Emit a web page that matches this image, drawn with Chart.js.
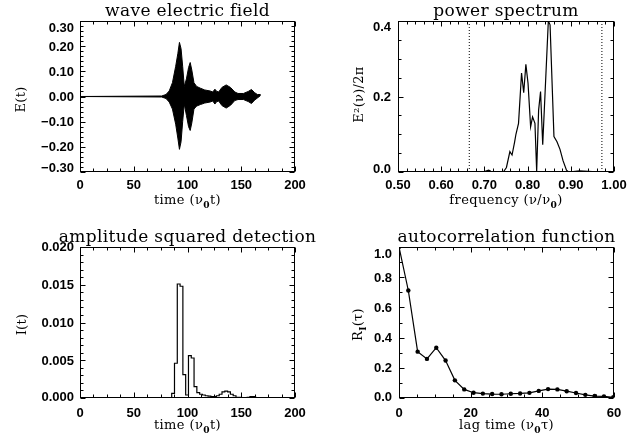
<!DOCTYPE html>
<html><head><meta charset="utf-8">
<script src="https://cdn.jsdelivr.net/npm/chart.js@4/dist/chart.umd.min.js"></script>
<style>
html,body{margin:0;padding:0;background:#fff;overflow:hidden}
#wrap{position:relative;width:639px;height:438px;background:#fff}
canvas{position:absolute;left:0;top:0}
</style></head><body><div id="wrap">
<canvas id="c1" width="639" height="438"></canvas>
<canvas id="c2" width="639" height="438"></canvas>
<canvas id="c3" width="639" height="438"></canvas>
<canvas id="c4" width="639" height="438"></canvas>
</div>
<script>
// ---------- data ----------
const waveTime  = [0, 76, 80, 83, 86, 89, 91, 92.5, 94, 95.5, 97, 99, 101, 102.5, 104, 106, 108.5, 112, 116, 121, 123.5, 125.5, 127, 129, 132, 136, 140, 144, 147, 152, 156.5, 159.5, 162.5, 165, 168];
const waveUpper = [0, 0.002, 0.008, 0.022, 0.055, 0.12, 0.17, 0.215, 0.19, 0.12, 0.04, 0.07, 0.115, 0.135, 0.105, 0.055, 0.04, 0.033, 0.026, 0.022, 0.018, 0.029, 0.021, 0.018, 0.036, 0.046, 0.036, 0.018, 0.012, 0.012, 0.02, 0.028, 0.015, 0.008, 0.008];
const waveLower = [0, -0.002, -0.008, -0.022, -0.05, -0.11, -0.165, -0.21, -0.18, -0.1, -0.03, -0.075, -0.12, -0.135, -0.105, -0.05, -0.038, -0.032, -0.026, -0.022, -0.018, -0.03, -0.021, -0.018, -0.036, -0.046, -0.035, -0.016, -0.012, -0.012, -0.02, -0.028, -0.014, -0.006, 0.004];

const specFreq  = [0.50, 0.60, 0.69, 0.70, 0.705, 0.71, 0.715, 0.72, 0.73, 0.745, 0.751, 0.759, 0.764, 0.770, 0.773, 0.779, 0.786, 0.791, 0.796, 0.801, 0.807, 0.8115, 0.817, 0.821, 0.8255, 0.830, 0.835, 0.848, 0.852, 0.861, 0.868, 0.875, 0.882, 0.890, 0.895, 0.92, 0.95, 1.0];
const specPower = [0, 0, 0, 0.001, 0.003, 0.005, 0.002, 0.001, 0.001, 0.002, 0.012, 0.054, 0.045, 0.08, 0.10, 0.129, 0.262, 0.21, 0.285, 0.235, 0.12, 0.146, 0.129, 0.002, 0.164, 0.213, 0.072, 0.40, 0.39, 0.094, 0.08, 0.06, 0.03, 0.005, 0, 0.003, 0.001, 0];
const specMarkers = [0.665, 0.972];

const detTime = [0, 81.4, 84.0, 86.6, 89.2, 91.8, 94.4, 97.0, 99.6, 102.2, 104.8, 107.4, 110.0, 112.6, 115.2, 117.8, 120.4, 123.0, 125.6, 128.2, 130.8, 133.4, 136.0, 138.6, 141.2, 143.8, 146.4, 149.0, 151.6, 154.2, 156.8, 159.4, 162.0, 164.6];
const detIntensity = [0, 0, 0, 0.0006, 0.0046, 0.0151, 0.0148, 0.0031, 0.0004, 0.0056, 0.0053, 0.0015, 0.0007, 0.0005, 0.0004, 0.0003, 0.00025, 0.0002, 0.0002, 0.0003, 0.0005, 0.0008, 0.0009, 0.0008, 0.0005, 0.0003, 0.0001, 0.0001, 0, 0, 0.0001, 0.0002, 0.0002, 0];

const lagTime  = [0, 2.6, 5.2, 7.8, 10.4, 13.0, 15.6, 18.2, 20.8, 23.4, 26.0, 28.6, 31.2, 33.8, 36.4, 39.0, 41.6, 44.2, 46.8, 49.4, 52.0, 54.6, 57.2, 59.8];
const autoCorr = [1.0, 0.712, 0.307, 0.259, 0.333, 0.248, 0.117, 0.057, 0.035, 0.029, 0.026, 0.025, 0.028, 0.030, 0.034, 0.047, 0.059, 0.057, 0.045, 0.033, 0.021, 0.013, 0.011, 0.005];

// tick values and labels
const timeTicks = [0, 50, 100, 150, 200];
const timeTickLabels = ['0', '50', '100', '150', '200'];
const fieldTicks = [-0.3, -0.2, -0.1, 0, 0.1, 0.2, 0.3];
const fieldTickLabels = ['\u22120.30', '\u22120.20', '\u22120.10', '0.00', '0.10', '0.20', '0.30'];
const freqTicks = [0.5, 0.6, 0.7, 0.8, 0.9, 1.0];
const freqTickLabels = ['0.50', '0.60', '0.70', '0.80', '0.90', '1.00'];
const powerTicks = [0, 0.2, 0.4];
const powerTickLabels = ['0.0', '0.2', '0.4'];
const intensTicks = [0, 0.005, 0.010, 0.015, 0.020];
const intensTickLabels = ['0.000', '0.005', '0.010', '0.015', '0.020'];
const lagTicks = [0, 20, 40, 60];
const lagTickLabels = ['0', '20', '40', '60'];
const corrTicks = [0, 0.2, 0.4, 0.6, 0.8, 1.0];
const corrTickLabels = ['0.0', '0.2', '0.4', '0.6', '0.8', '1.0'];

// ---------- helpers ----------
const TICKFONT = 'bold 13px "Liberation Sans"';
const SERIF = '"DejaVu Serif"';
function pts(xs, ys) { return xs.map((x, i) => ({x: x, y: ys[i]})); }

function drawRich(ctx, segs, cx, cy, size, rot, ls) {
  ctx.save();
  ctx.translate(cx, cy);
  if (rot) ctx.rotate(-Math.PI / 2);
  ctx.textBaseline = 'alphabetic';
  ctx.textAlign = 'left';
  ctx.fillStyle = '#000';
  try { ctx.letterSpacing = (ls || 0) + 'px'; } catch (e) {}
  let w = 0;
  segs.forEach(s => { ctx.font = (s.sub ? 'bold ' + size * 0.7 : size) + 'px ' + SERIF; w += ctx.measureText(s.t).width; });
  let x = -w / 2;
  segs.forEach(s => {
    const sz = s.sub ? size * 0.7 : size;
    ctx.font = (s.sub ? 'bold ' : '') + sz + 'px ' + SERIF;
    ctx.fillText(s.t, x, s.sub ? size * 0.28 : 0);
    x += ctx.measureText(s.t).width;
  });
  ctx.restore();
}

const idlPlugin = {
  id: 'idl',
  afterDraw(chart, args, o) {
    const ctx = chart.ctx, a = chart.chartArea, xs = chart.scales.x, ys = chart.scales.y;
    ctx.save();
    ctx.strokeStyle = '#000';
    ctx.lineWidth = 1;
    const L = Math.round(a.left) + 0.5, R = Math.round(a.right) - 0.5;
    const T = Math.round(a.top) + 0.5, B = Math.round(a.bottom) - 0.5;
    ctx.strokeRect(L, T, R - L, B - T);
    ctx.beginPath();
    // x ticks
    const xv = o.xTicks, xstep = xv[1] - xv[0];
    const xMarks = [];
    xv.forEach(v => xMarks.push([v, o.xMajorLen]));
    for (let i = 0; i < xv.length - 1; i++)
      for (let k = 1; k < o.xMinor; k++) xMarks.push([xv[i] + k * xstep / o.xMinor, o.xMinorLen]);
    xMarks.forEach(([v, len]) => {
      const p = Math.round(xs.getPixelForValue(v)) + 0.5;
      ctx.moveTo(p, B); ctx.lineTo(p, B - len);
      ctx.moveTo(p, T); ctx.lineTo(p, T + len);
    });
    // y ticks
    const yv = o.yTicks, ystep = yv[1] - yv[0];
    const yMarks = [];
    yv.forEach(v => yMarks.push([v, o.yMajorLen]));
    for (let i = 0; i < yv.length - 1; i++)
      for (let k = 1; k < o.yMinor; k++) yMarks.push([yv[i] + k * ystep / o.yMinor, o.yMinorLen]);
    yMarks.forEach(([v, len]) => {
      const p = Math.round(ys.getPixelForValue(v)) + 0.5;
      ctx.moveTo(L, p); ctx.lineTo(L + len, p);
      ctx.moveTo(R, p); ctx.lineTo(R - len, p);
    });
    ctx.stroke();
    // y tick labels
    ctx.font = TICKFONT;
    ctx.fillStyle = '#000';
    ctx.textAlign = 'right';
    ctx.textBaseline = 'middle';
    yv.forEach((v, i) => {
      let p = ys.getPixelForValue(v);
      if (i === 0) p += o.yLabelEnds[0];
      if (i === yv.length - 1) p += o.yLabelEnds[1];
      ctx.fillText(o.yLabels[i], a.left - o.yLabelGap, p + 1);
    });
    ctx.restore();
    // titles
    const cxm = (a.left + a.right) / 2;
    drawRich(ctx, [{t: o.title}], cxm, a.top + o.titleDy, 17, false, 0.35);
    drawRich(ctx, o.xTitle, cxm, a.bottom + o.xTitleDy, 13, false, 0.4);
    drawRich(ctx, o.yTitle, a.left + o.yTitleDx, (a.top + a.bottom) / 2 + o.yTitleDy, 13, true, 0.3);
  }
};

function xScale(min, max, vals, labels, pad) {
  return {
    type: 'linear', min: min, max: max,
    afterBuildTicks: s => { s.ticks = vals.map(v => ({value: v})); },
    afterFit: s => { s.height = 40; },
    ticks: {
      callback: (v, i) => labels[i],
      font: {family: 'Liberation Sans', size: 13, weight: 'bold'}, color: '#000',
      padding: pad, maxRotation: 0, autoSkip: false
    },
    grid: {display: false, drawTicks: false},
    border: {display: false}
  };
}
function yScale(min, max, vals) {
  return {
    type: 'linear', min: min, max: max,
    afterBuildTicks: s => { s.ticks = vals.map(v => ({value: v})); },
    afterFit: s => { s.width = 10; },
    ticks: {display: false},
    grid: {display: false, drawTicks: false},
    border: {display: false}
  };
}
function baseOptions(pad, x, y, idl) {
  return {
    responsive: false, animation: false, devicePixelRatio: 1,
    layout: {padding: pad},
    plugins: {legend: {display: false}, tooltip: {enabled: false}, title: {display: false}, idl: idl},
    scales: {x: x, y: y},
    elements: {line: {tension: 0}, point: {radius: 0}}
  };
}

// ---------- panel 1: wave electric field ----------
new Chart(document.getElementById('c1'), {
  type: 'line',
  data: {datasets: [
    {data: pts(waveTime, waveUpper), borderColor: '#000', borderWidth: 1, backgroundColor: '#000', fill: '+1', pointRadius: 0},
    {data: pts(waveTime, waveLower), borderColor: '#000', borderWidth: 1, backgroundColor: '#000', fill: false, pointRadius: 0}
  ]},
  options: baseOptions({left: 70, right: 344, top: 21, bottom: 226},
    xScale(0, 200, timeTicks, timeTickLabels, 6),
    yScale(-0.3, 0.3, fieldTicks),
    {xTicks: timeTicks, xMinor: 4, xMajorLen: 5, xMinorLen: 3,
     yTicks: fieldTicks, yMinor: 5, yMajorLen: 5, yMinorLen: 3,
     yLabels: fieldTickLabels, yLabelEnds: [-4.5, 6], yLabelGap: 6,
     title: 'wave electric field', titleDy: -5,
     xTitle: [{t: 'time (\u03bd'}, {t: '0', sub: true}, {t: 't)'}], xTitleDy: 32,
     yTitle: [{t: 'E(t)'}], yTitleDx: -55, yTitleDy: 3})
  ,
  plugins: [idlPlugin]
});

// ---------- panel 2: power spectrum ----------
new Chart(document.getElementById('c2'), {
  type: 'line',
  data: {datasets: [
    {data: pts(specFreq, specPower), borderColor: '#000', borderWidth: 1.2, fill: false, pointRadius: 0},
    {data: [{x: specMarkers[0], y: 0}, {x: specMarkers[0], y: 0.4}], borderColor: '#000', borderWidth: 1, borderDash: [1, 2], fill: false, pointRadius: 0},
    {data: [{x: specMarkers[1], y: 0}, {x: specMarkers[1], y: 0.4}], borderColor: '#000', borderWidth: 1, borderDash: [1, 2], fill: false, pointRadius: 0}
  ]},
  options: baseOptions({left: 388, right: 25, top: 21, bottom: 226},
    xScale(0.5, 1.0, freqTicks, freqTickLabels, 6),
    yScale(0, 0.4, powerTicks),
    {xTicks: freqTicks, xMinor: 5, xMajorLen: 5, xMinorLen: 3,
     yTicks: powerTicks, yMinor: 4, yMajorLen: 5, yMinorLen: 3,
     yLabels: powerTickLabels, yLabelEnds: [-4, 5], yLabelGap: 7,
     title: 'power spectrum', titleDy: -5,
     xTitle: [{t: 'frequency (\u03bd/\u03bd'}, {t: '0', sub: true}, {t: ')'}], xTitleDy: 32,
     yTitle: [{t: 'E\u00b2(\u03bd)/2\u03c0'}], yTitleDx: -35, yTitleDy: -2})
  ,
  plugins: [idlPlugin]
});

// ---------- panel 3: amplitude squared detection ----------
new Chart(document.getElementById('c3'), {
  type: 'line',
  data: {datasets: [
    {data: pts(detTime, detIntensity), borderColor: '#000', borderWidth: 1.2, stepped: 'middle', fill: false, pointRadius: 0}
  ]},
  options: baseOptions({left: 70, right: 344, top: 247, bottom: 0},
    xScale(0, 200, timeTicks, timeTickLabels, 8),
    yScale(0, 0.02, intensTicks),
    {xTicks: timeTicks, xMinor: 4, xMajorLen: 5, xMinorLen: 3,
     yTicks: intensTicks, yMinor: 5, yMajorLen: 5, yMinorLen: 3,
     yLabels: intensTickLabels, yLabelEnds: [-2, -1], yLabelGap: 6,
     title: 'amplitude squared detection', titleDy: -5,
     xTitle: [{t: 'time (\u03bd'}, {t: '0', sub: true}, {t: 't)'}], xTitleDy: 31,
     yTitle: [{t: 'I(t)'}], yTitleDx: -54, yTitleDy: 2})
  ,
  plugins: [idlPlugin]
});

// ---------- panel 4: autocorrelation function ----------
new Chart(document.getElementById('c4'), {
  type: 'line',
  data: {datasets: [
    {data: pts(lagTime, autoCorr), borderColor: '#000', borderWidth: 1.2, fill: false,
     pointRadius: 2.2, pointBackgroundColor: '#000', pointBorderColor: '#000', pointBorderWidth: 0}
  ]},
  options: baseOptions({left: 389, right: 25, top: 247, bottom: 0},
    xScale(0, 60, lagTicks, lagTickLabels, 8),
    yScale(0, 1.0, corrTicks),
    {xTicks: lagTicks, xMinor: 4, xMajorLen: 5, xMinorLen: 3,
     yTicks: corrTicks, yMinor: 2, yMajorLen: 5, yMinorLen: 3,
     yLabels: corrTickLabels, yLabelEnds: [-2, 6.4], yLabelGap: 7,
     title: 'autocorrelation function', titleDy: -5,
     xTitle: [{t: 'lag time (\u03bd'}, {t: '0', sub: true}, {t: '\u03c4)'}], xTitleDy: 31,
     yTitle: [{t: 'R'}, {t: 'I', sub: true}, {t: '(\u03c4)'}], yTitleDx: -37, yTitleDy: 2})
  ,
  plugins: [idlPlugin]
});
</script>
</body></html>
